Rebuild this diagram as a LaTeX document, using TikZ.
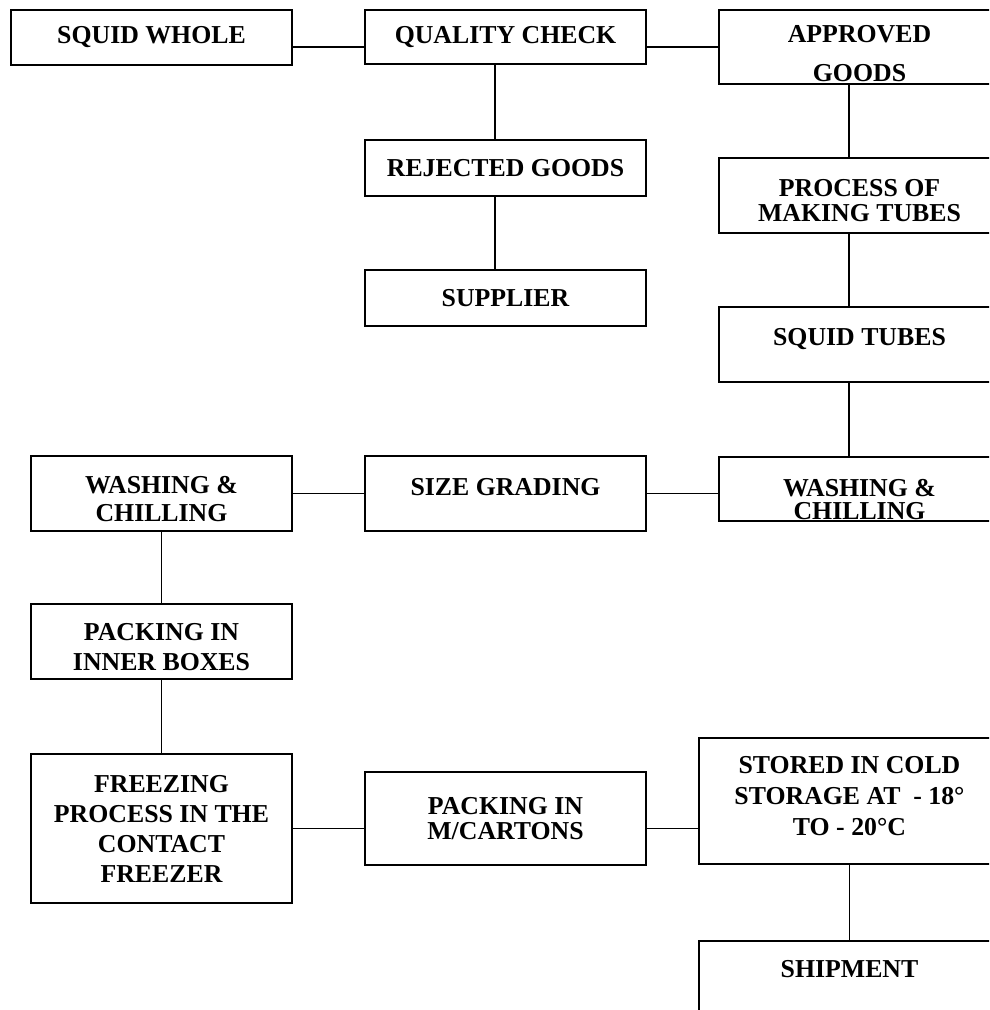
\documentclass[tikz,border=0pt]{standalone}
\usepackage{fontspec}
\setmainfont{Liberation Serif}

\tikzset{
  box/.style={draw, line width=1pt, rectangle, align=center, inner sep=0pt,
    font=\bfseries\fontsize{12.9}{14}\selectfont},
  wide/.style={box, minimum width=140.5pt},
  narrow/.style={box, minimum width=130.5pt},
  link/.style={line width=0.9pt},
}

\begin{document}
\begin{tikzpicture}[x=0.5pt,y=-0.5pt]
        \useasboundingbox (0,0) rectangle (989,1010);
        \clip (0,0) rectangle (989,1010);
        % top row
        \node[wide, minimum height=27.5pt] (whole) at (151.5,37.5) {SQUID WHOLE};
        \node[wide, minimum height=27pt] (check) at (505.5,37) {QUALITY CHECK};
        \node[wide, minimum height=37pt] (approved) at (859.5,47) {\rule{0pt}{15.6pt}APPROVED\\[5.5pt] GOODS};
        % rejected branch
        \node[wide, minimum height=28pt] (rejected) at (505.5,168) {REJECTED GOODS};
        \node[wide, minimum height=28pt] (supplier) at (505.5,298) {SUPPLIER};
        % right column
        \node[wide, minimum height=37.5pt] (making) at (859.5,195.5) {\rule{0pt}{13.6pt}PROCESS OF\\[-1.5pt] MAKING TUBES};
        \node[wide, minimum height=37.5pt, text depth=7.5pt] (tubes) at (859.5,344.5) {SQUID TUBES};
        \node[wide, minimum height=32pt] (washR) at (859.5,489) {\rule{0pt}{19pt}WASHING \&\\[-2.5pt] CHILLING};
        % middle row
        \node[wide, minimum height=37.5pt, text depth=6.5pt] (grading) at (505.5,493.5) {SIZE GRADING};
        \node[narrow, minimum height=37.5pt] (washL) at (161.5,493.5) {\rule{0pt}{14pt}WASHING \&\\ CHILLING};
        \node[narrow, minimum height=37.5pt] (inner) at (161.5,641.5) {\rule{0pt}{14.6pt}PACKING IN\\[1pt] INNER BOXES};
        % bottom row
        \node[narrow, minimum height=74.5pt, font=\bfseries\fontsize{12.9}{15}\selectfont] (freezing) at (161.5,828.5)
            {FREEZING\\ PROCESS IN THE\\ CONTACT\\ FREEZER};
        \node[wide, minimum height=46.5pt] (cartons) at (505.5,818.5) {PACKING IN\\[-1.5pt] M/CARTONS};
        \node[box, minimum width=150.5pt, minimum height=63pt, font=\bfseries\fontsize{12.9}{15.5}\selectfont] (cold) at (849.5,801)
            {STORED IN COLD\\ STORAGE AT\ \ - 18°\\ TO - 20°C\rule[-5pt]{0pt}{0pt}};
        \node[box, anchor=north, minimum width=150.5pt, minimum height=40pt, text depth=12pt] (ship) at (849.5,940) {SHIPMENT};

        \draw[link] (whole.east |- approved.west) -- (check.west |- approved.west);
        \draw[link] (check.east |- approved.west) -- (approved.west);
        \draw[link] ([xshift=-5.25pt]check.south) -- ([xshift=-5.25pt]rejected.north);
        \draw[link] ([xshift=-5.25pt]rejected.south) -- ([xshift=-5.25pt]supplier.north);
        \draw[link] ([xshift=-5.25pt]approved.south) -- ([xshift=-5.25pt]making.north);
        \draw[link] ([xshift=-5.25pt]making.south) -- ([xshift=-5.25pt]tubes.north);
        \draw[link] ([xshift=-5.25pt]tubes.south) -- ([xshift=-5.25pt]washR.north);
        \draw[link] (washR.west |- grading.east) -- (grading.east);
        \draw[link] (grading.west) -- (washL.east);
        \draw[link] (washL.south) -- (inner.north);
        \draw[link] (inner.south) -- (freezing.north);
        \draw[link] (freezing.east) -- (cartons.west |- freezing.east);
        \draw[link] (cartons.east |- freezing.east) -- (cold.west |- freezing.east);
        \draw[link] (cold.south) -- (ship.north);
\end{tikzpicture}
\end{document}
